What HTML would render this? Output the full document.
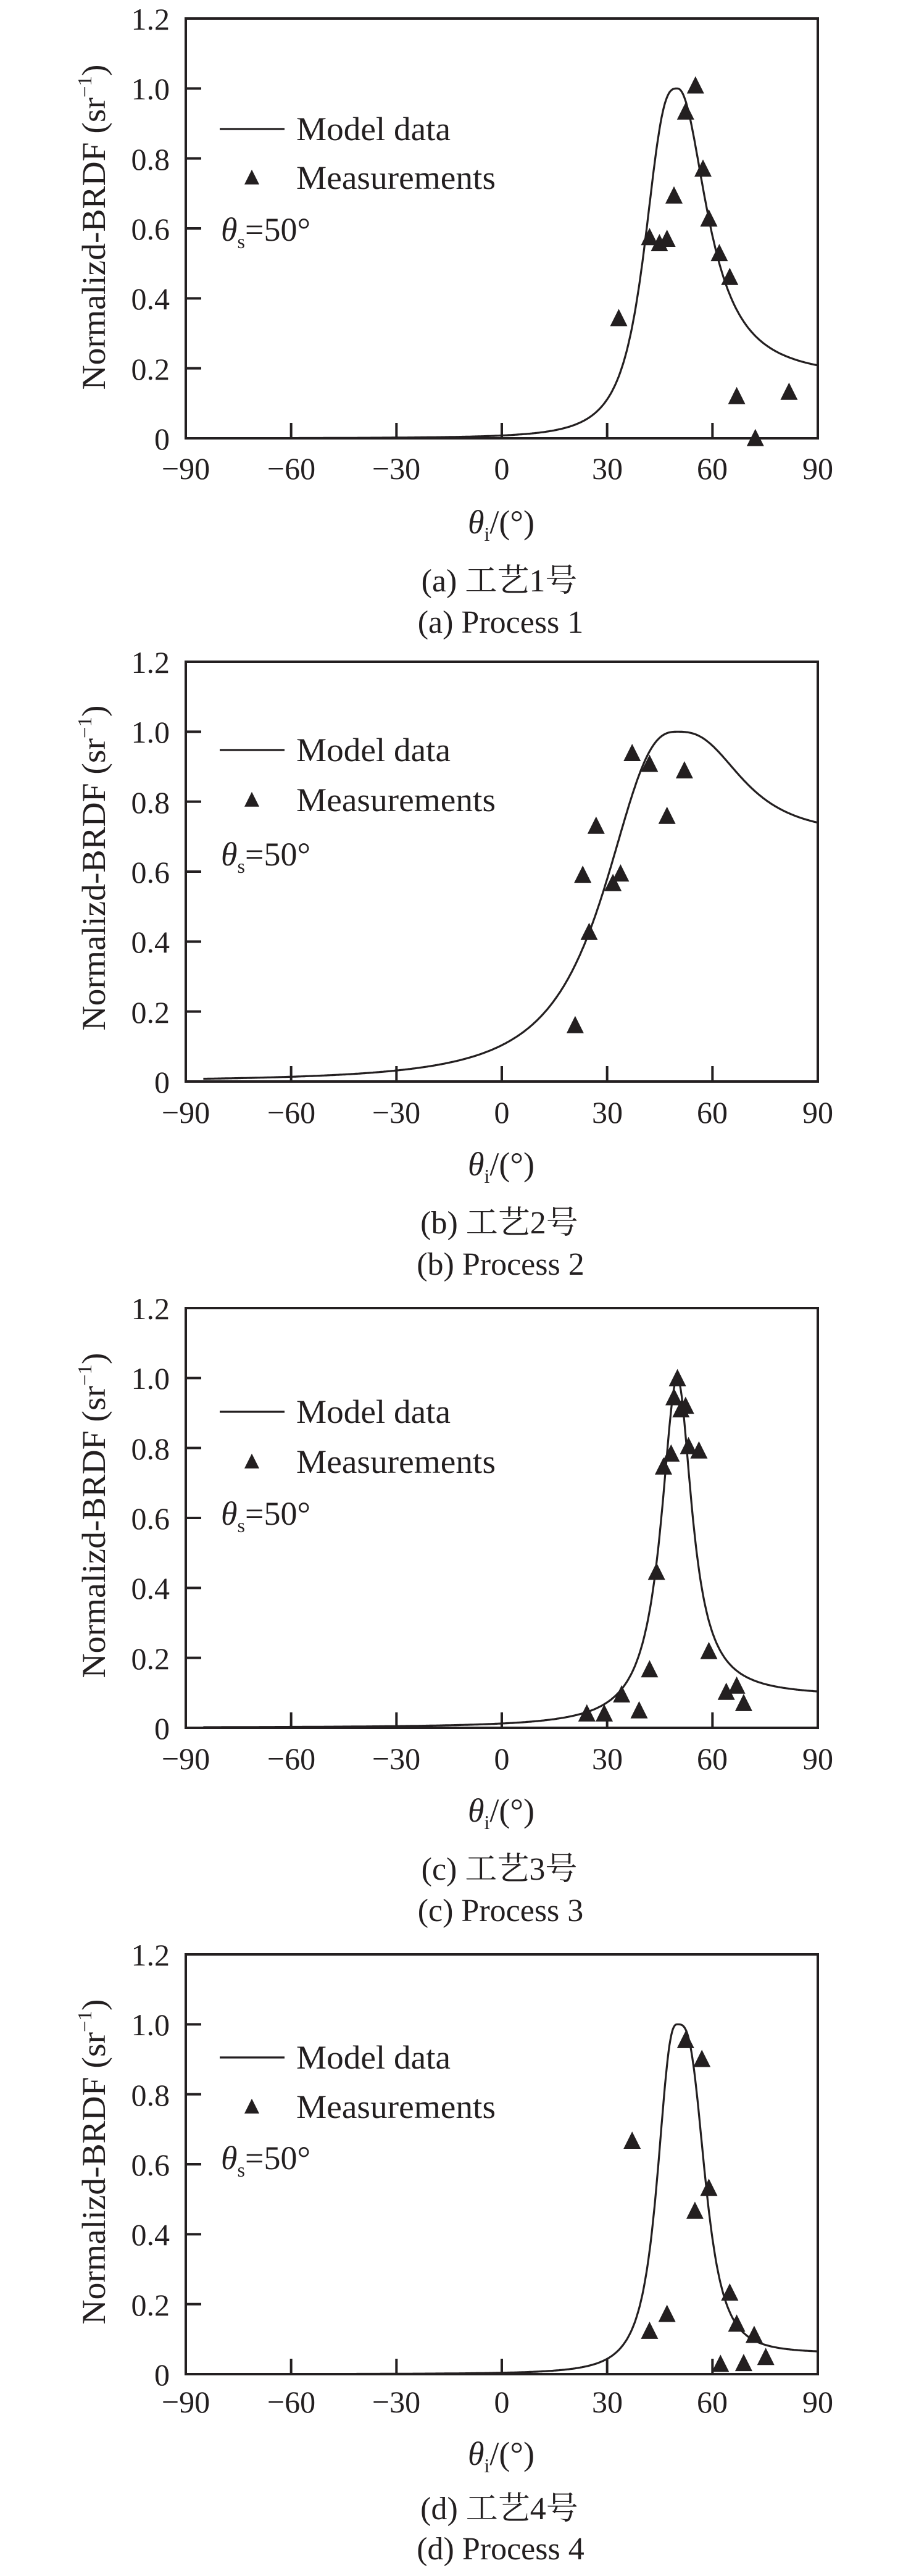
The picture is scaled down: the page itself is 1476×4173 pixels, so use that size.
<!DOCTYPE html>
<html><head><meta charset="utf-8">
<style>
html,body{margin:0;padding:0;background:#fff;}
svg{display:block;}
text{font-family:"Liberation Serif","Noto Serif CJK SC","Noto Sans CJK SC",serif;fill:#231f20;}
.tk{font-size:50px;}
.lg{font-size:54px;}
.cap{font-size:52px;}
</style></head>
<body>
<svg id="s" width="1476" height="4173" viewBox="0 0 1476 4173" xmlns="http://www.w3.org/2000/svg">
<g>
<text class="lg" x="480" y="227" textLength="250" lengthAdjust="spacingAndGlyphs">Model data</text>
<text class="lg" x="480" y="306" textLength="323" lengthAdjust="spacingAndGlyphs">Measurements</text>
<text class="lg" x="358" y="390"><tspan font-style="italic">θ</tspan><tspan font-size="32" dy="12">s</tspan><tspan dy="-12">=50°</tspan></text>
<text class="lg" transform="translate(170,368) rotate(-90)" text-anchor="middle" textLength="527" lengthAdjust="spacingAndGlyphs">Normalizd-BRDF (sr<tspan font-size="32" dy="-22">−1</tspan><tspan dy="22">)</tspan></text>
<text class="lg" x="812" y="864" text-anchor="middle"><tspan font-style="italic">θ</tspan><tspan font-size="32" dy="12">i</tspan><tspan dy="-12">/(°)</tspan></text>
<text class="cap" x="809" y="958" text-anchor="middle">(a) 工艺1号</text>
<text class="cap" x="811" y="1025" text-anchor="middle">(a) Process 1</text>
</g>
<g>
<text class="lg" x="480" y="1233" textLength="250" lengthAdjust="spacingAndGlyphs">Model data</text>
<text class="lg" x="480" y="1314" textLength="323" lengthAdjust="spacingAndGlyphs">Measurements</text>
<text class="lg" x="358" y="1402"><tspan font-style="italic">θ</tspan><tspan font-size="32" dy="12">s</tspan><tspan dy="-12">=50°</tspan></text>
<text class="lg" transform="translate(170,1406) rotate(-90)" text-anchor="middle" textLength="527" lengthAdjust="spacingAndGlyphs">Normalizd-BRDF (sr<tspan font-size="32" dy="-22">−1</tspan><tspan dy="22">)</tspan></text>
<text class="lg" x="812" y="1904" text-anchor="middle"><tspan font-style="italic">θ</tspan><tspan font-size="32" dy="12">i</tspan><tspan dy="-12">/(°)</tspan></text>
<text class="cap" x="809" y="1998" text-anchor="middle">(b) 工艺2号</text>
<text class="cap" x="811" y="2065" text-anchor="middle">(b) Process 2</text>
</g>
<g>
<text class="lg" x="480" y="2305" textLength="250" lengthAdjust="spacingAndGlyphs">Model data</text>
<text class="lg" x="480" y="2386" textLength="323" lengthAdjust="spacingAndGlyphs">Measurements</text>
<text class="lg" x="358" y="2470"><tspan font-style="italic">θ</tspan><tspan font-size="32" dy="12">s</tspan><tspan dy="-12">=50°</tspan></text>
<text class="lg" transform="translate(170,2455) rotate(-90)" text-anchor="middle" textLength="527" lengthAdjust="spacingAndGlyphs">Normalizd-BRDF (sr<tspan font-size="32" dy="-22">−1</tspan><tspan dy="22">)</tspan></text>
<text class="lg" x="812" y="2951" text-anchor="middle"><tspan font-style="italic">θ</tspan><tspan font-size="32" dy="12">i</tspan><tspan dy="-12">/(°)</tspan></text>
<text class="cap" x="809" y="3045" text-anchor="middle">(c) 工艺3号</text>
<text class="cap" x="811" y="3112" text-anchor="middle">(c) Process 3</text>
</g>
<g>
<text class="lg" x="480" y="3351" textLength="250" lengthAdjust="spacingAndGlyphs">Model data</text>
<text class="lg" x="480" y="3431" textLength="323" lengthAdjust="spacingAndGlyphs">Measurements</text>
<text class="lg" x="358" y="3514"><tspan font-style="italic">θ</tspan><tspan font-size="32" dy="12">s</tspan><tspan dy="-12">=50°</tspan></text>
<text class="lg" transform="translate(170,3502) rotate(-90)" text-anchor="middle" textLength="527" lengthAdjust="spacingAndGlyphs">Normalizd-BRDF (sr<tspan font-size="32" dy="-22">−1</tspan><tspan dy="22">)</tspan></text>
<text class="lg" x="812" y="3993" text-anchor="middle"><tspan font-style="italic">θ</tspan><tspan font-size="32" dy="12">i</tspan><tspan dy="-12">/(°)</tspan></text>
<text class="cap" x="809" y="4081" text-anchor="middle">(d) 工艺4号</text>
<text class="cap" x="811" y="4146" text-anchor="middle">(d) Process 4</text>
</g>
<g class="tk" text-anchor="end">
<text x="275" y="48">1.2</text><text x="275" y="161">1.0</text><text x="275" y="275">0.8</text><text x="275" y="388">0.6</text><text x="275" y="501">0.4</text><text x="275" y="615">0.2</text><text x="275" y="728">0</text>
<text x="275" y="1090">1.2</text><text x="275" y="1203">1.0</text><text x="275" y="1317">0.8</text><text x="275" y="1430">0.6</text><text x="275" y="1543">0.4</text><text x="275" y="1657">0.2</text><text x="275" y="1770">0</text>
<text x="275" y="2137">1.2</text><text x="275" y="2250">1.0</text><text x="275" y="2364">0.8</text><text x="275" y="2477">0.6</text><text x="275" y="2590">0.4</text><text x="275" y="2704">0.2</text><text x="275" y="2817">0</text>
<text x="275" y="3184">1.2</text><text x="275" y="3297">1.0</text><text x="275" y="3411">0.8</text><text x="275" y="3524">0.6</text><text x="275" y="3637">0.4</text><text x="275" y="3751">0.2</text><text x="275" y="3864">0</text>
</g>
<g class="tk" text-anchor="middle">
<text x="301" y="776">−90</text><text x="472" y="776">−60</text><text x="642" y="776">−30</text><text x="813" y="776">0</text><text x="984" y="776">30</text><text x="1154" y="776">60</text><text x="1325" y="776">90</text>
<text x="301" y="1819">−90</text><text x="472" y="1819">−60</text><text x="642" y="1819">−30</text><text x="813" y="1819">0</text><text x="984" y="1819">30</text><text x="1154" y="1819">60</text><text x="1325" y="1819">90</text>
<text x="301" y="2866">−90</text><text x="472" y="2866">−60</text><text x="642" y="2866">−30</text><text x="813" y="2866">0</text><text x="984" y="2866">30</text><text x="1154" y="2866">60</text><text x="1325" y="2866">90</text>
<text x="301" y="3908">−90</text><text x="472" y="3908">−60</text><text x="642" y="3908">−30</text><text x="813" y="3908">0</text><text x="984" y="3908">30</text><text x="1154" y="3908">60</text><text x="1325" y="3908">90</text>
</g>
<g id="draw"></g>
</svg>
<script>
(function(){
var g=document.getElementById("draw"),out="";
var L=301,R=1325,H=680,sx=(R-L)/180,sy=H/1.2;
var panels=[
 {T:30,lg:[179,258],c:{lw:10,lq:3.0,b:0.17,rw:9.86,rq:2.16},z0:0,fy:1.425,
  p:[[1065,735],[1118,548],[1135,562],[1148,552],[1160,452],[1180,258],[1197,198],[1210,390],[1220,505],[1238,585],[1256,640],[1268,915],[1300,1012],[1358,905]]},
 {T:1072,lg:[143,224],c:{lw:22.5,lq:2.7,b:0.7,rw:20,rq:2.7},z0:1040,fy:1.425,
  p:[[990,885],[1003,538],[1014,670],[1026,425],[1055,557],[1068,535],[1088,257],[1118,282],[1148,402],[1178,297]]},
 {T:2119,lg:[168,249],c:{lw:5.6,lq:2,b:0.09,rw:5,rq:2},z0:2080,fy:1.425,
  p:[[1010,992],[1040,992],[1070,948],[1100,985],[1118,890],[1130,665],[1142,422],[1155,392],[1160,262],[1166,218],[1172,290],[1180,282],[1185,375],[1203,385],[1220,848],[1250,942],[1268,928],[1280,968]]},
 {T:3166,lg:[167,247],c:{lw:6.3,lq:2.67,b:0.06,rw:8.27,rq:3.3},z0:3150,fy:1568/1023,
  p:[[1088,488],[1118,960],[1148,918],[1180,238],[1196,662],[1208,285],[1220,605],[1240,1042],[1256,865],[1268,942],[1280,1040],[1298,970],[1318,1025]]}
];
function tri(cx,cy,s){cx=+cx;cy=+cy;
 return '<polygon fill="#231f20" points="'+cx.toFixed(1)+','+(cy-s*1.1).toFixed(1)+' '+(cx-s).toFixed(1)+','+(cy+s*0.9).toFixed(1)+' '+(cx+s).toFixed(1)+','+(cy+s*0.9).toFixed(1)+'"/>';}
panels.forEach(function(P){
 var T=P.T,B=T+H;
 out+='<rect x="'+L+'" y="'+T+'" width="'+(R-L)+'" height="'+H+'" fill="none" stroke="#231f20" stroke-width="4"/>';
 for(var i=1;i<6;i++){var y=B-i*0.2*sy;out+='<line x1="'+L+'" y1="'+y+'" x2="'+(L+25)+'" y2="'+y+'" stroke="#231f20" stroke-width="4"/>';}
 for(var i=1;i<6;i++){var x=L+i*30*sx;out+='<line x1="'+x+'" y1="'+B+'" x2="'+x+'" y2="'+(B-25)+'" stroke="#231f20" stroke-width="4"/>';}
 var c=P.c,d="";
 for(var a=-85;a<=90.001;a+=0.25){
  var dd=a-50,v;
  if(dd<=0){v=1/(1+Math.pow(Math.abs(dd)/c.lw,c.lq));}
  else{v=c.b+(1-c.b)/(1+Math.pow(dd/c.rw,c.rq));}
  var x=L+(a+90)*sx,y=B-v*sy;
  d+=(d?"L":"M")+x.toFixed(1)+","+y.toFixed(1);
 }
 out+='<path d="'+d+'" fill="none" stroke="#231f20" stroke-width="3.2"/>';
 out+='<line x1="356" y1="'+(T+P.lg[0])+'" x2="461" y2="'+(T+P.lg[0])+'" stroke="#231f20" stroke-width="3.2"/>';
 out+=tri(408,T+P.lg[1],12);
 P.p.forEach(function(q){
  var x=q[0]/1.0623,y=P.z0+q[1]/P.fy;
  out+=tri(x,y,14);
 });
});
g.innerHTML=out;
})();
</script>
</body></html>
